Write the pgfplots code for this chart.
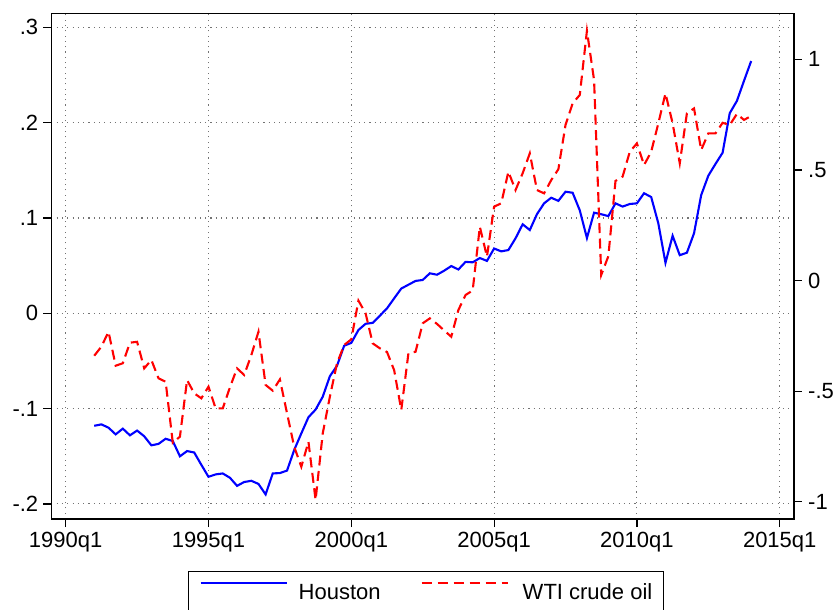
\documentclass[border=0pt]{standalone}
\usepackage{pgfplots}
\usepackage{pgfplotstable}
\pgfplotsset{compat=1.18}
\usepackage{fontspec}
\setmainfont{Liberation Sans}

\pgfplotstableread{
t h w
1991.00 -0.118 -0.340
1991.25 -0.1165 -0.299
1991.50 -0.120 -0.2315
1991.75 -0.127 -0.385
1992.00 -0.121 -0.374
1992.25 -0.128 -0.281
1992.50 -0.123 -0.277
1992.75 -0.129 -0.397
1993.00 -0.1385 -0.359
1993.25 -0.137 -0.442
1993.50 -0.1316 -0.4575
1993.75 -0.134 -0.733
1994.00 -0.150 -0.706
1994.25 -0.1445 -0.450
1994.50 -0.146 -0.510
1994.75 -0.159 -0.5325
1995.00 -0.1715 -0.480
1995.25 -0.169 -0.578
1995.50 -0.168 -0.578
1995.75 -0.1725 -0.483
1996.00 -0.181 -0.397
1996.25 -0.177 -0.427
1996.50 -0.1757 -0.337
1996.75 -0.179 -0.2315
1997.00 -0.190 -0.472
1997.25 -0.168 -0.498
1997.50 -0.1676 -0.447
1997.75 -0.165 -0.600
1998.00 -0.1435 -0.751
1998.25 -0.126 -0.842
1998.50 -0.109 -0.729
1998.75 -0.101 -0.992
1999.00 -0.0875 -0.691
1999.25 -0.066 -0.525
1999.50 -0.055 -0.374
1999.75 -0.034 -0.2915
2000.00 -0.031 -0.266
2000.25 -0.0175 -0.091
2000.50 -0.011 -0.148
2000.75 -0.010 -0.284
2001.00 -0.0025 -0.3065
2001.25 0.0052 -0.323
2001.50 0.0157 -0.405
2001.75 0.026 -0.585
2002.00 0.030 -0.329
2002.25 0.034 -0.322
2002.50 0.035 -0.1935
2002.75 0.042 -0.171
2003.00 0.0405 -0.196
2003.25 0.0447 -0.2256
2003.50 0.0496 -0.254
2003.75 0.046 -0.133
2004.00 0.054 -0.0655
2004.25 0.0535 -0.045
2004.50 0.058 0.243
2004.75 0.055 0.108
2005.00 0.068 0.334
2005.25 0.065 0.349
2005.50 0.0664 0.492
2005.75 0.0787 0.409
2006.00 0.0934 0.485
2006.25 0.0874 0.575
2006.50 0.104 0.409
2006.75 0.1154 0.394
2007.00 0.1213 0.454
2007.25 0.118 0.503
2007.50 0.1276 0.703
2007.75 0.1265 0.801
2008.00 0.108 0.839
2008.25 0.079 1.129
2008.50 0.1056 0.906
2008.75 0.104 0.025
2009.00 0.102 0.11
2009.25 0.1154 0.45
2009.50 0.112 0.47
2009.75 0.1147 0.582
2010.00 0.1154 0.620
2010.25 0.126 0.522
2010.50 0.122 0.582
2010.75 0.0944 0.711
2011.00 0.053 0.846
2011.25 0.0814 0.711
2011.50 0.061 0.530
2011.75 0.0636 0.756
2012.00 0.084 0.778
2012.25 0.124 0.590
2012.50 0.1444 0.665
2012.75 0.1567 0.665
2013.00 0.1685 0.713
2013.25 0.210 0.703
2013.50 0.2228 0.753
2013.75 0.244 0.726
2014.00 0.2647 0.744
}\data

\definecolor{sblue}{RGB}{0,0,255}
\definecolor{sred}{RGB}{255,0,0}

\pgfplotsset{
  common/.style={
    at={(0,0)}, anchor=south west,
    scale only axis, width=742.6bp, height=505.7bp,
    xmin=1989.5, xmax=2015.5,
    tick align=outside,
    major tick length=8bp,
    every tick/.style={black, line width=1.2bp},
    tick label style={font=\fontsize{22bp}{26bp}\selectfont, inner sep=5bp},
    axis line style={black, line width=1.2bp},
    clip=false,
  },
}

\begin{document}
\begin{tikzpicture}
\path[use as bounding box] (-51.4bp,-91bp) rectangle (785.6bp,519bp);
\begin{axis}[
  common,
  ymin=-0.2158, ymax=0.3148,
  xtick={1990,1995,2000,2005,2010,2015},
  xticklabels={1990q1,1995q1,2000q1,2005q1,2010q1,2015q1},
  ytick={-0.2,-0.1,0,0.1,0.2,0.3},
  yticklabels={-.2,-.1,0,.1,.2,.3},
  xtick pos=bottom, ytick pos=left,
  grid=major,
  major grid style={black!55, line width=1.1bp, dash pattern=on 1.1bp off 4.2bp},
  legend columns=2,
  legend style={at={(rel axis cs:0.5044,-0.1028)}, anchor=north,
    draw=black, line width=0.8bp, fill=white,
    inner xsep=11bp, inner ysep=11bp,
    font=\fontsize{22bp}{26bp}\selectfont,
    nodes={inner sep=0bp, text height=16bp, text depth=0bp},
    /tikz/column 1/.style={column sep=11bp},
    /tikz/column 2/.style={column sep=40bp},
    /tikz/column 3/.style={column sep=14bp}},
  legend image code/.code={\draw[#1] (0bp,8bp) -- (86bp,8bp);},
]
\addplot[sblue, line width=2.1bp] table[x=t, y=h] {\data};
\addlegendentry{Houston}
\addlegendimage{sred, line width=2.1bp, dash pattern=on 10bp off 6bp}
\addlegendentry{WTI crude oil}
\end{axis}
\begin{axis}[
  common,
  ymin=-1.078, ymax=1.208,
  axis x line=none,
  axis y line*=right,
  ytick={-1,-0.5,0,0.5,1},
  yticklabels={-1,-.5,0,.5,1},
  yticklabel style={inner sep=6bp},
]
\addplot[sred, line width=2.1bp, dash pattern=on 10bp off 5.5bp] table[x=t, y=w] {\data};
\end{axis}
\end{tikzpicture}
\end{document}
